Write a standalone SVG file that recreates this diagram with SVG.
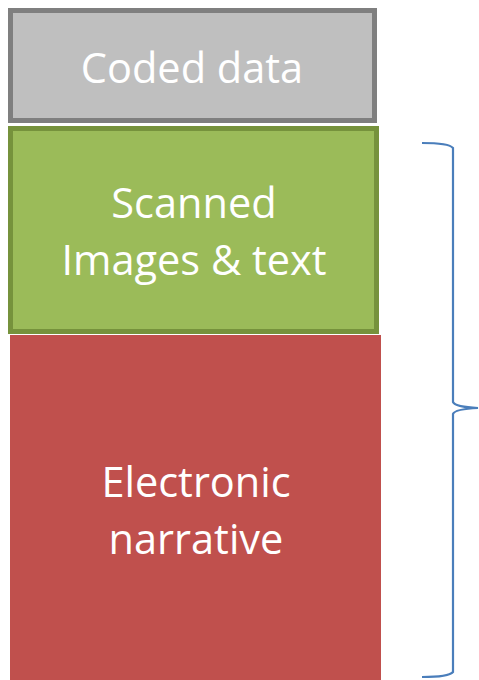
<svg xmlns="http://www.w3.org/2000/svg" width="479" height="680" viewBox="0 0 479 680">
  <style>
    .label { font-family: "Open Sans", "Liberation Sans", sans-serif; font-size: 41.5px; fill: #ffffff; text-anchor: middle; }
    .brace { fill: none; stroke: #4a7ebb; stroke-width: 2.2; }
  </style>
  <rect width="479" height="680" fill="#ffffff"/>
  <g id="electronic-narrative">
    <rect x="10" y="335" width="371" height="350" fill="#c0504d"/>
    <text class="label" x="196" y="497">Electronic</text>
    <text class="label" x="196" y="554">narrative</text>
  </g>
  <g id="coded-data">
    <rect x="10.5" y="10.5" width="364" height="110" fill="#bfbfbf" stroke="#7f7f7f" stroke-width="5"/>
    <text class="label" x="192" y="83">Coded data</text>
  </g>
  <g id="scanned-images">
    <rect x="10.5" y="128.5" width="366" height="203" fill="#9bbb59" stroke="#76923c" stroke-width="5"/>
    <text class="label" x="194" y="218">Scanned</text>
    <text class="label" x="194" y="275">Images &amp; text</text>
  </g>
  <g id="connectors">
    <path class="brace" d="M422,143 Q449,143 453,148 L453,402 Q455,407 478,408 Q455,409 453,414 L453,672 Q449,677 422,677"/>
  </g>
</svg>
